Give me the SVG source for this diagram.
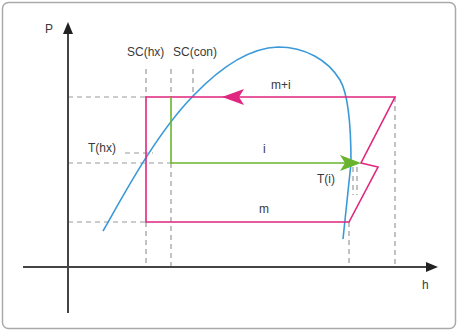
<svg xmlns="http://www.w3.org/2000/svg" width="458" height="331" viewBox="0 0 458 331">
<style>
.t{font-family:"Liberation Sans",Arial,sans-serif;font-size:12px;fill:#3a3a3a}
.d{stroke:#9a9a9a;stroke-width:1.2;stroke-dasharray:5,4;fill:none}
.ax{stroke:#444;stroke-width:2;fill:none}
.pk{stroke:#e0267f;stroke-width:1.6;fill:none}
.gr{stroke:#6ab42d;stroke-width:1.6;fill:none}
.bl{stroke:#3a9ad9;stroke-width:1.6;fill:none}
</style>
<rect x="2.5" y="2.5" width="453" height="326" rx="6" fill="#fff" stroke="#aaa" stroke-width="1.5"/>
<g id="guides">
<path class="d" d="M68,97H146M68,163H171M68,222H146M125,153H153"/>
<path class="d" d="M146,69V97M146,222V267M171,69V97M171,163V267M193,69V97M349,222V267M395,97V267M353,167V195M357,167V195"/>
</g>
<g id="axes">
<path class="ax" d="M68,32V313M23,267H428"/>
<polygon points="68,22 63,34 73,34" fill="#222"/>
<polygon points="438,267 426,262 426,272" fill="#222"/>
</g>
<g id="saturation-curve">
<path class="bl" d="M103,231C122,198 155,135 193,96C215,73 245,48 278,47C305,47 328,60 340,80C347,92 351,120 351,163L343,239"/>
</g>
<g id="connectors">
<path class="pk" d="M243,97H395L361,163L378,167L349,222H146V97H243"/>
<polygon points="222,97 244,89 239,97 244,105" fill="#e0267f"/>
<path class="gr" d="M171,97V163H345"/>
<polygon points="361,163 340,155 345,163 340,171" fill="#6ab42d"/>
</g>
<g id="labels">
<text class="t" x="45" y="33">P</text>
<text class="t" x="422" y="289">h</text>
<text class="t" x="127" y="56">SC(hx)</text>
<text class="t" x="173" y="56">SC(con)</text>
<text class="t" x="271" y="89">m+i</text>
<text class="t" x="263" y="153">i</text>
<text class="t" x="88" y="152">T(hx)</text>
<text class="t" x="317" y="183">T(i)</text>
<text class="t" x="259" y="213">m</text>
</g>
</svg>
